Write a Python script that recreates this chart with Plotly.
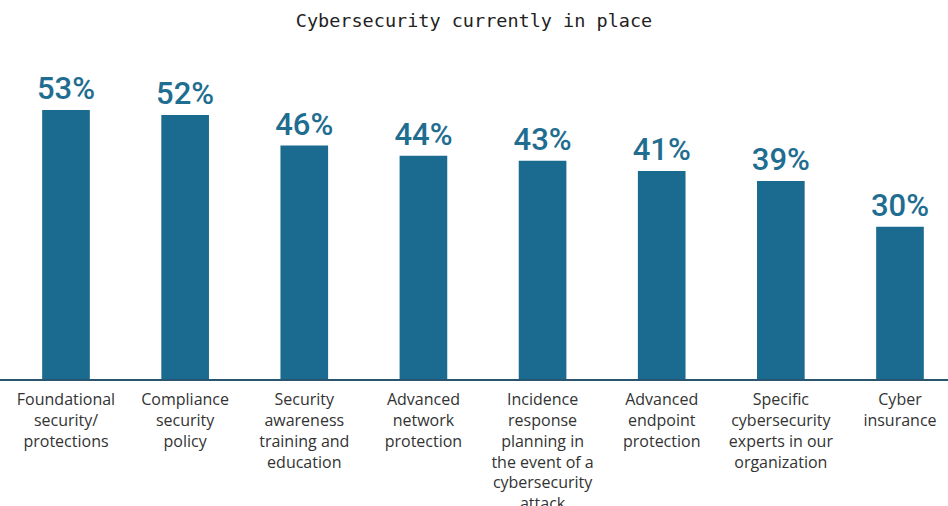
import plotly.graph_objects as go

categories = [
    "Foundational<br>security/<br>protections",
    "Compliance<br>security<br>policy",
    "Security<br>awareness<br>training and<br>education",
    "Advanced<br>network<br>protection",
    "Incidence<br>response<br>planning in<br>the event of a<br>cybersecurity<br>attack",
    "Advanced<br>endpoint<br>protection",
    "Specific<br>cybersecurity<br>experts in our<br>organization",
    "Cyber<br>insurance",
]
values = [53, 52, 46, 44, 43, 41, 39, 30]
labels = [f"{v}%" for v in values]

bar_color = "#1b6a8f"

fig = go.Figure(
    go.Bar(
        x=list(range(len(categories))),
        y=values,
        width=0.40,
        marker=dict(color=bar_color, line=dict(width=0)),
        text=labels,
        textposition="outside",
        constraintext="none",
        textfont=dict(family="Roboto", size=31, color="#1f6d90", weight=500),
        cliponaxis=False,
        hoverinfo="skip",
    )
)

fig.update_layout(
    width=948,
    height=506,
    margin=dict(l=0, r=0, t=77, b=127, autoexpand=False),
    paper_bgcolor="white",
    plot_bgcolor="white",
    showlegend=False,
    title=dict(
        text="Cybersecurity currently in place",
        x=0.5,
        xanchor="center",
        y=0.96,
        yanchor="middle",
        font=dict(family="DejaVu Sans Mono", size=18.5, color="#222222"),
    ),
    xaxis=dict(
        range=[-0.554, 7.403],
        tickmode="array",
        tickvals=list(range(len(categories))),
        ticktext=categories,
        showline=True,
        linecolor="#2a5570",
        linewidth=2,
        showgrid=False,
        zeroline=False,
        ticks="",
        automargin=False,
        ticklabelstandoff=5,
        tickfont=dict(family="Open Sans", size=16, color="#333333"),
        tickangle=0,
    ),
    yaxis=dict(
        range=[0, 59.5],
        visible=False,
        showgrid=False,
        zeroline=False,
        automargin=False,
    ),
    uniformtext=dict(mode=False),
)

fig.write_html("out.html")
